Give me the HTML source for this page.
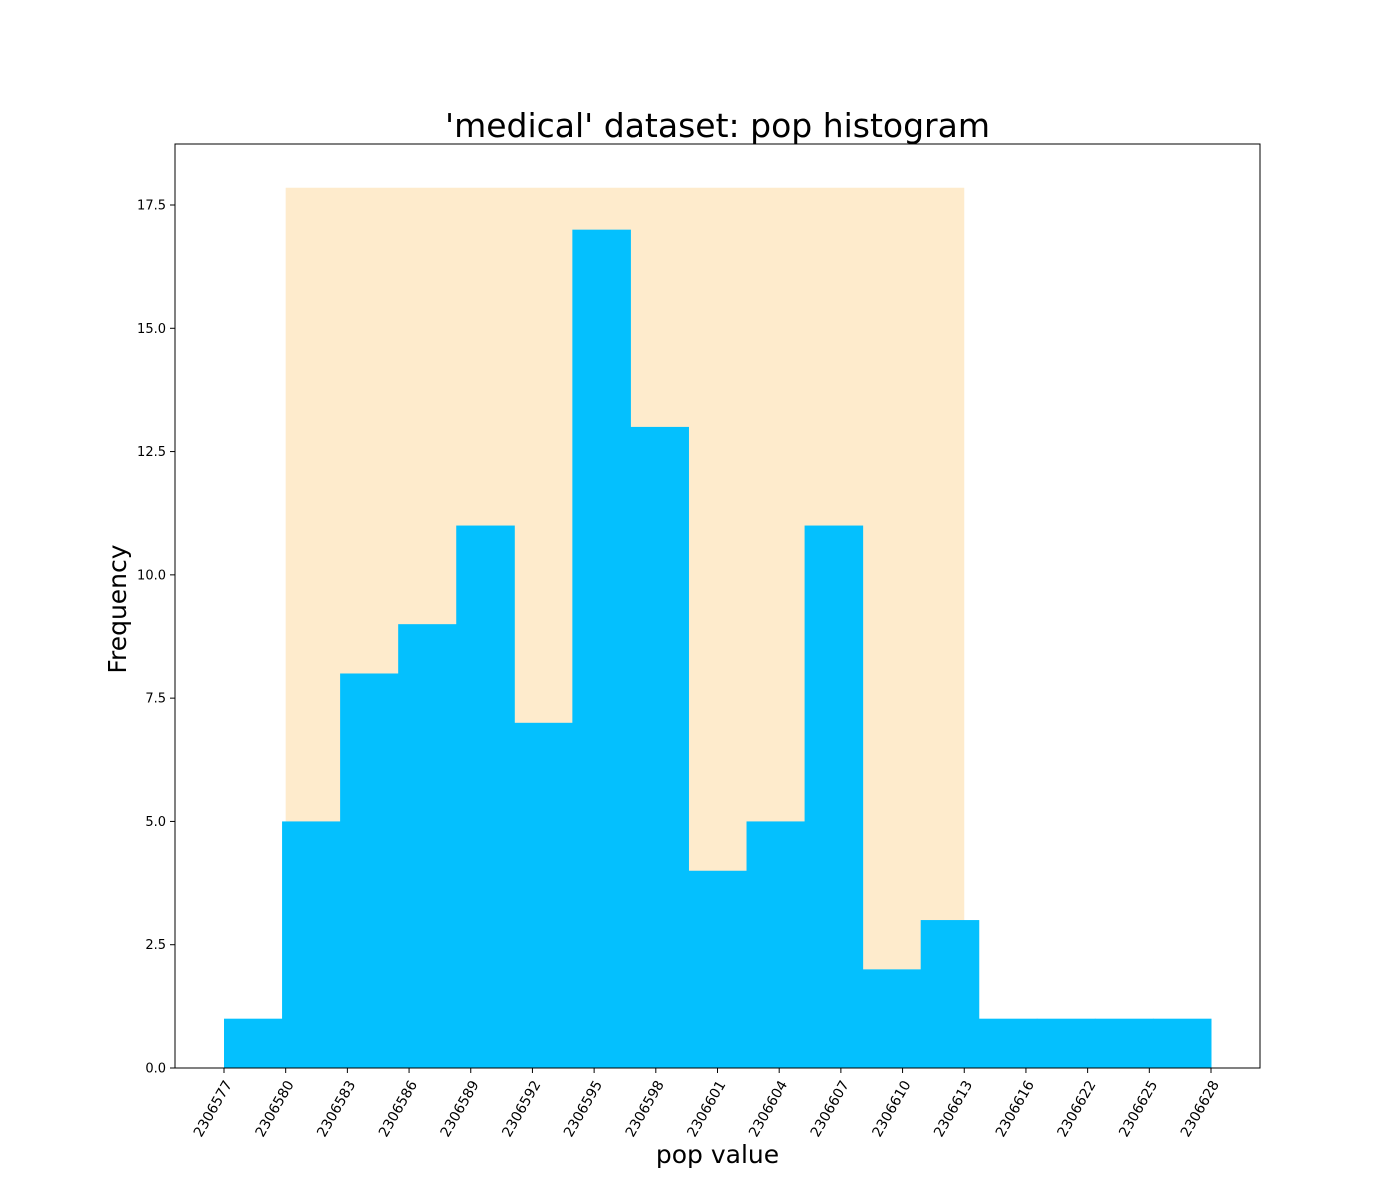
<!DOCTYPE html>
<html><head><meta charset="utf-8">
<style>
html,body{margin:0;padding:0;background:#fff;}
svg{display:block;font-family:"DejaVu Sans","Liberation Sans",sans-serif;}
</style></head>
<body>
<svg id="chart" width="1400" height="1200" viewBox="0 0 1400 1200" xmlns="http://www.w3.org/2000/svg">
<rect width="1400" height="1200" fill="#fff"/>
<text x="717.5" y="137" font-size="33" text-anchor="middle" fill="#000">'medical' dataset: pop histogram</text>
<g id="plot"></g>
<text x="717.5" y="1163" font-size="25" text-anchor="middle" fill="#000">pop value</text>
<text x="126" y="609" font-size="25" text-anchor="middle" fill="#000" transform="rotate(-90 126 609)">Frequency</text>
</svg>
<script>
const binCounts = [1,5,8,9,11,7,17,13,4,5,11,2,3,1,1,1,1];
const tickLabels = ["2306577","2306580","2306583","2306586","2306589","2306592","2306595","2306598","2306601","2306604","2306607","2306610","2306613","2306616","2306622","2306625","2306628"];
const yTicks = [0,2.5,5,7.5,10,12.5,15,17.5];
const bandStartTick = 1;
const bandEndTick = 12;
const bandTop = 17.85;

const NS = "http://www.w3.org/2000/svg";
const L = 175, R = 1260, T = 144, B = 1068;
const x0 = 224, x1 = 1211;
function yScale(v){ return B - v * (1068 - 205) / 17.5; }
function xTick(i){ return x0 + i * (x1 - x0) / (tickLabels.length - 1); }
function xBin(j){ return x0 + j * (x1 - x0) / binCounts.length; }
const g = document.getElementById('plot');
function mk(tag, attrs){ const e = document.createElementNS(NS, tag); for (const k in attrs) e.setAttribute(k, attrs[k]); g.appendChild(e); return e; }

const band = mk('rect', {x: xTick(bandStartTick), y: yScale(bandTop), width: xTick(bandEndTick) - xTick(bandStartTick), height: B - yScale(bandTop), fill: '#feebcc'});



binCounts.forEach((c, j) => {
  const r = mk('rect', {x: xBin(j), y: yScale(c), width: xBin(j+1) - xBin(j) + 0.5, height: B - yScale(c), fill: '#04c0fe'});
  
  
});

const frame = mk('rect', {x: L, y: T, width: R - L, height: B - T, fill: 'none', stroke: '#000', 'stroke-width': 1});



yTicks.forEach(v => {
  const y = yScale(v);
  mk('line', {x1: L - 5, x2: L, y1: y, y2: y, stroke: '#000', 'stroke-width': 1});
  const t = mk('text', {x: L - 9, y: y + 4.5, 'font-size': 13, 'text-anchor': 'end', fill: '#000'});
  t.textContent = v.toFixed(1);
  
  
});

tickLabels.forEach((lab, i) => {
  const x = xTick(i);
  mk('line', {x1: x, x2: x, y1: B, y2: B + 5, stroke: '#000', 'stroke-width': 1});
  const t = mk('text', {x: x + 5, y: B + 14, 'font-size': 14, 'text-anchor': 'end', fill: '#000', transform: `rotate(-60 ${x + 5} ${B + 14})`, 'dominant-baseline': 'middle'});
  t.textContent = lab;
  
  
});
</script>
</body></html>
